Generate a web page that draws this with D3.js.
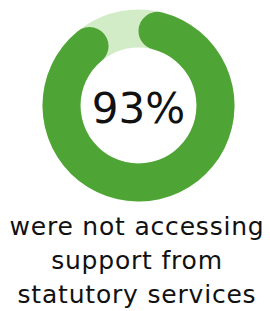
<!DOCTYPE html>
<html>
<head>
<meta charset="utf-8">
<script src="https://cdn.jsdelivr.net/npm/d3@7"></script>
<style>
  body { margin: 0; background: #fff; }
  text { font-family: 'DejaVu Sans', sans-serif; fill: #111; }
</style>
</head>
<body>
<script>
const width = 270, height = 311;
const share = 0.93;
const shareLabel = '93%';
const captionLines = ['were not accessing', 'support from', 'statutory services'];

const cx = 138.5, cy = 105.5;
const outerR = 96, innerR = 58;

const svg = d3.select('body')
    .append('svg')
    .attr('width', width)
    .attr('height', height)

const g = svg.append('g').attr('transform', `translate(${cx}, ${cy})`);

const angle = d3.scaleLinear().domain([0, 1]).range([0, 2 * Math.PI]);

// background ring
const ring = d3.arc().innerRadius(innerR).outerRadius(outerR);
g.append('path')
    .attr('d', ring({ startAngle: 0, endAngle: 2 * Math.PI }))
    .attr('fill', '#d3ecc8')

// value arc with rounded ends
const arc = d3.arc()
    .innerRadius(innerR)
    .outerRadius(outerR)
    .cornerRadius((outerR - innerR) / 2);
g.append('path')
    .attr('d', arc({ startAngle: angle(0), endAngle: angle(share) }))
    .attr('fill', '#4ea434')

g.append('text')
    .attr('text-anchor', 'middle')
    .attr('y', 17)
    .style('font-size', '42px')
    .text(shareLabel)

svg.selectAll('.caption')
    .data(captionLines)
    .enter()
    .append('text')
    .attr('class', 'caption')
    .attr('x', 137)
    .attr('y', (d, i) => 235 + i * 34)
    .attr('text-anchor', 'middle')
    .style('font-size', '25px')
    .style('letter-spacing', '0.8px')
    .text(d => d)
</script>
</body>
</html>
